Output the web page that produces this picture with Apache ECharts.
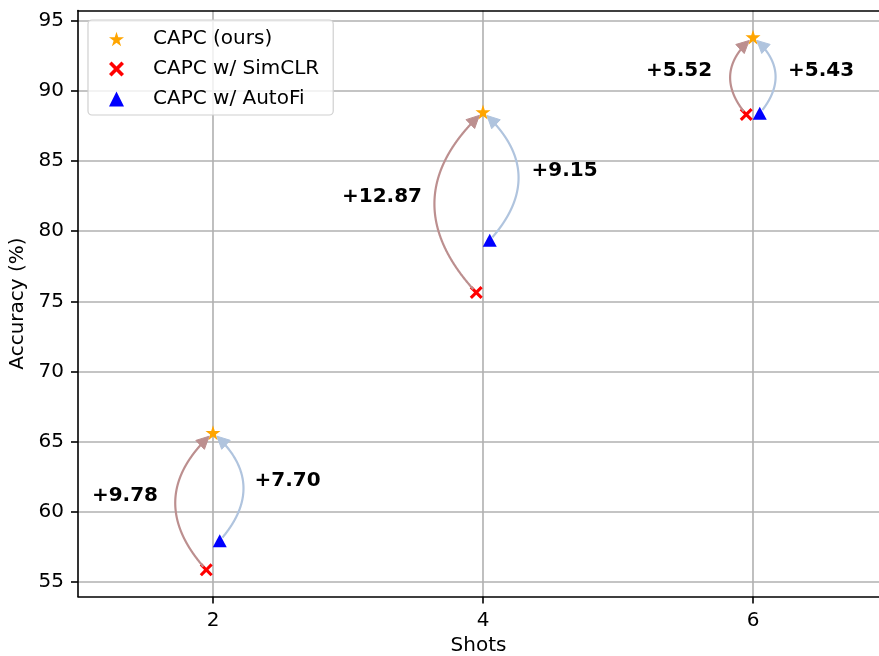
<!DOCTYPE html>
<html><head><meta charset="utf-8">
<script src="https://cdn.jsdelivr.net/npm/echarts@6/dist/echarts.min.js"></script>
<style>html,body{margin:0;padding:0;background:#fff}#c{width:879px;height:656px}</style>
</head><body><div id="c"></div>
<script>
// ---- data ----
const shots = [2, 4, 6];
const capc = [65.64, 88.50, 93.83];
const simclr = [55.86, 75.63, 88.31];
const autofi = [57.94, 79.35, 88.40];
const xTicks = [2, 4, 6];
const yTicks = [55, 60, 65, 70, 75, 80, 85, 90, 95];
const seriesNames = ['CAPC (ours)', 'CAPC w/ SimCLR', 'CAPC w/ AutoFi'];

// ---- layout / style (not data) ----
const jitter = 0.05;
const xRange = [1, 6.9333];
const yRange = [53.9615, 95.7285];
const labelPos = [[1.348, 61.15], [2.552, 62.18], [3.252, 82.46], [4.604, 84.28], [5.452, 91.45], [6.504, 91.45]];
const FONT = 'DejaVu Sans';
const arrowColors = ['#bc8f8f', '#b0c4de'];

function starPath() {
  let s = 'path://';
  for (let k = 0; k < 10; k++) {
    const r = k % 2 ? 0.381966 : 1;
    const a = -Math.PI / 2 + k * Math.PI / 5;
    s += (k ? 'L' : 'M') + (r * Math.cos(a) * 10).toFixed(3) + ',' + (r * Math.sin(a) * 10).toFixed(3);
  }
  return s + 'Z';
}
const STAR = starPath();
const XMARK = 'path://M0,1.7L1.7,0L5,3.3L8.3,0L10,1.7L6.7,5L10,8.3L8.3,10L5,6.7L1.7,10L0,8.3L3.3,5Z';
const icons = [STAR, XMARK, 'triangle'];

// arrow data: [xFrom, yFrom, xTo, yTo, rad, colorIdx, labelIdx]
const arrows = [];
shots.forEach((s, i) => {
  arrows.push([s - jitter, simclr[i], s, capc[i], -0.5, 0, 2 * i]);
  arrows.push([s + jitter, autofi[i], s, capc[i], 0.5, 1, 2 * i + 1]);
});

function renderArrow(params, api) {
  const x1 = api.value(0), y1 = api.value(1), x2 = api.value(2), y2 = api.value(3);
  const rad = api.value(4);
  const color = arrowColors[api.value(5)];
  const li = api.value(6);
  const p0 = api.coord([x1, y1]);
  const p2 = api.coord([x2, y2]);
  const dx = p2[0] - p0[0], dy = p2[1] - p0[1];
  const c = [(p0[0] + p2[0]) / 2 - rad * dy, (p0[1] + p2[1]) / 2 + rad * dx];
  const N = 400;
  const pts = [];
  for (let k = 0; k <= N; k++) {
    const t = k / N, u = 1 - t;
    pts.push([u * u * p0[0] + 2 * u * t * c[0] + t * t * p2[0], u * u * p0[1] + 2 * u * t * c[1] + t * t * p2[1]]);
  }
  const dist = (a, b) => Math.hypot(a[0] - b[0], a[1] - b[1]);
  const shrinkA = 4, shrinkB = 5, headL = 12.5, headW = 6.2;
  let s0 = 0; while (s0 < N && dist(pts[s0], p0) < shrinkA) s0++;
  let e0 = N; while (e0 > 0 && dist(pts[e0], p2) < shrinkB) e0--;
  const tip = pts[e0];
  const te = e0 / N;
  let dvx = 2 * (1 - te) * (c[0] - p0[0]) + 2 * te * (p2[0] - c[0]);
  let dvy = 2 * (1 - te) * (c[1] - p0[1]) + 2 * te * (p2[1] - c[1]);
  const dl = Math.hypot(dvx, dvy); dvx /= dl; dvy /= dl;
  const base = [tip[0] - dvx * headL, tip[1] - dvy * headL];
  const nx = -dvy, ny = dvx;
  let lineEnd = e0; while (lineEnd > s0 && dist(pts[lineEnd], tip) < headL * 0.8) lineEnd--;
  const linePts = pts.slice(s0, lineEnd + 1);
  linePts.push(base);
  const lp = api.coord(labelPos[li]);
  const diff = '+' + (y2 - y1).toFixed(2);
  return {
    type: 'group',
    children: [
      { type: 'polyline', shape: { points: linePts }, style: { stroke: color, lineWidth: 2.2, fill: null } },
      { type: 'polygon', shape: { points: [tip, [base[0] + nx * headW, base[1] + ny * headW], [base[0] - nx * headW, base[1] - ny * headW]] },
        style: { fill: color, stroke: color, lineWidth: 1 } },
      { type: 'text', x: lp[0], y: lp[1], style: { text: diff, fill: '#000', font: 'bold 20px "' + FONT + '"', align: 'center', verticalAlign: 'middle' } }
    ]
  };
}

const chart = echarts.init(document.getElementById('c'), null, { renderer: 'canvas' });
const lineBlack = { color: '#000', width: 1.6 };
const axisCommon = {
  axisLine: { show: true, onZero: false, lineStyle: lineBlack },
  axisTick: { show: true, length: 7, lineStyle: lineBlack },
  splitLine: { show: true, lineStyle: { color: '#b0b0b0', width: 1.6 } },
  nameTextStyle: { fontSize: 20, fontFamily: FONT, color: '#000' }
};
chart.setOption({
  animation: false,
  backgroundColor: '#fff',
  grid: { left: 78, right: 0, top: 10.5, bottom: 59.5, outerBoundsMode: 'none', containLabel: false },
  legend: {
    orient: 'vertical', left: 88, top: 20, padding: [9, 14, 6, 21], itemGap: 10, itemWidth: 15, itemHeight: 15,
    borderColor: '#d0d0d0', borderWidth: 1.2, borderRadius: 4, backgroundColor: 'rgba(255,255,255,0.8)',
    textStyle: { fontSize: 20, fontFamily: FONT, color: '#000', padding: [0, 0, 0, 24] },
    selectedMode: false,
    data: seriesNames.map((n, i) => ({ name: n, icon: icons[i] }))
  },
  xAxis: [
    Object.assign({}, axisCommon, {
      type: 'value', min: xRange[0], max: xRange[1], name: 'Shots', nameLocation: 'middle', nameGap: 39,
      axisTick: Object.assign({}, axisCommon.axisTick, { customValues: xTicks }),
      axisLabel: { customValues: xTicks, fontSize: 20, fontFamily: FONT, color: '#000', margin: 14 }
    }),
    {
      type: 'value', position: 'top', min: xRange[0], max: xRange[1],
      axisLine: { show: true, onZero: false, lineStyle: lineBlack },
      axisTick: { show: false }, axisLabel: { show: false }, splitLine: { show: false }
    }
  ],
  yAxis: Object.assign({}, axisCommon, {
    type: 'value', min: yRange[0], max: yRange[1], name: 'Accuracy (%)', nameLocation: 'middle', nameGap: 45,
    axisTick: Object.assign({}, axisCommon.axisTick, { customValues: yTicks }),
    axisLabel: { customValues: yTicks, fontSize: 20, fontFamily: FONT, color: '#000', margin: 14 }
  }),
  series: [
    { name: seriesNames[0], type: 'scatter', symbol: STAR, symbolSize: 15, z: 3,
      itemStyle: { color: '#ffa500', opacity: 1 }, data: shots.map((s, i) => [s, capc[i]]) },
    { name: seriesNames[1], type: 'scatter', symbol: XMARK, symbolSize: 13, z: 3,
      itemStyle: { color: '#ff0000', opacity: 1 }, data: shots.map((s, i) => [s - jitter, simclr[i]]) },
    { name: seriesNames[2], type: 'scatter', symbol: 'triangle', symbolSize: [14, 13], z: 3,
      itemStyle: { color: '#0000ff', opacity: 1 }, data: shots.map((s, i) => [s + jitter, autofi[i]]) },
    { type: 'custom', renderItem: renderArrow, data: arrows, encode: { x: [0, 2], y: [1, 3] }, z: 4, clip: false, silent: true }
  ]
});
</script></body></html>
